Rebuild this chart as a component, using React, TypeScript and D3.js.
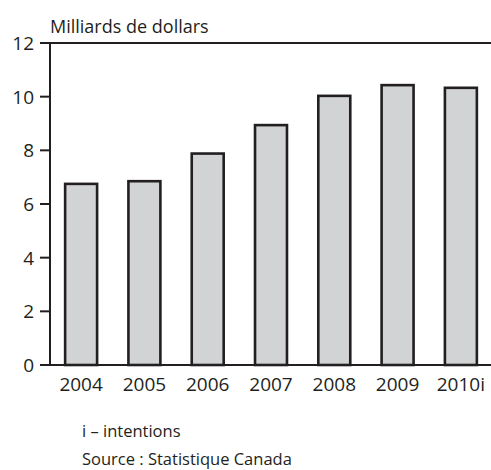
import React from "react";
import * as d3 from "d3";

const years = ["2004", "2005", "2006", "2007", "2008", "2009", "2010i"];
const values = [6.75, 6.85, 7.88, 8.94, 10.03, 10.43, 10.33];
const yTicks = [0, 2, 4, 6, 8, 10, 12];

const W = 491;
const H = 470;

export default function App() {
  const y = d3.scaleLinear().domain([0, 12]).range([365, 43]);
  const x = d3.scaleBand().domain(years).range([49.5, 492.5]).paddingInner(0.495).paddingOuter(0.247);
  const font = "'Open Sans', sans-serif";
  const dark = "#231f20";
  return (
    <svg width={W} height={H} style={{ position: "absolute", left: 0, top: 0, background: "#fff" }} fontFamily={font}>
      <text x={50} y={33} fontSize={18} fill={dark}>Milliards de dollars</text>
      {years.map((yr, i) => (
        <rect key={yr} x={x(yr)!} y={y(values[i])} width={x.bandwidth()} height={y(0) - y(values[i])}
          fill="#d1d3d4" stroke={dark} strokeWidth={2.6} />
      ))}
      <line x1={40} x2={W} y1={y(12)} y2={y(12)} stroke={dark} strokeWidth={2} />
      <line x1={40} x2={W} y1={y(0)} y2={y(0)} stroke={dark} strokeWidth={2} />
      <line x1={50} x2={50} y1={y(12)} y2={y(0)} stroke={dark} strokeWidth={2} />
      {yTicks.map((t) => (
        <g key={t}>
          <line x1={40} x2={50} y1={y(t)} y2={y(t)} stroke={dark} strokeWidth={2} />
          <text x={34} y={y(t)} dy="0.36em" textAnchor="end" fontSize={19} fill={dark}>{t}</text>
        </g>
      ))}
      {years.map((yr) => (
        <text key={yr} x={x(yr)! + x.bandwidth() / 2} y={391} textAnchor="middle" fontSize={19} fill={dark}>{yr}</text>
      ))}
      <text x={82} y={437} fontSize={16.5} fill={dark}>i – intentions</text>
      <text x={82} y={465} fontSize={16.5} fill={dark}>Source : Statistique Canada</text>
    </svg>
  );
}
